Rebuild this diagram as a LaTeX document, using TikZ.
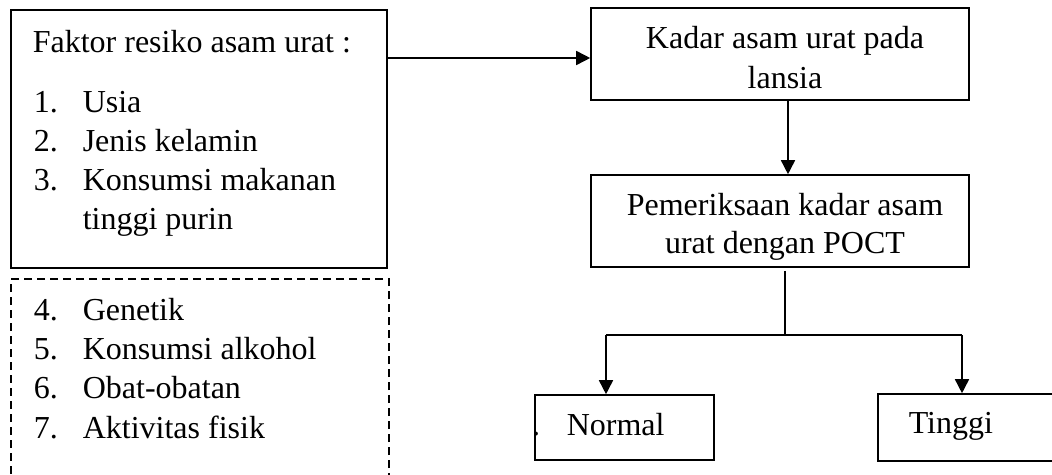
\documentclass[tikz,border=0pt]{standalone}
\usepackage{fontspec}
\setmainfont{Liberation Serif}
\usepackage{tikz}
\usetikzlibrary{arrows.meta}

\begin{document}
\begin{tikzpicture}[x=1pt,y=-1pt,>={Triangle[length=14pt,width=14pt]},line width=1.6pt,
  every node/.style={font=\fontsize{32}{39}\selectfont,inner sep=0pt},
  kotak/.style={draw,rectangle,line width=1.6pt}]
\useasboundingbox (0,0) rectangle (1052,474);
% boxes
\node[kotak,minimum width=376pt,minimum height=258pt] (faktor) at (199,139) {};
\node[kotak,dash pattern=on 8pt off 5pt,minimum width=378pt,minimum height=240pt] (lain) at (200,399) {};
\node[kotak,minimum width=378pt,minimum height=92pt] (kadar) at (780,54) {};
\node[kotak,minimum width=378pt,minimum height=92pt] (periksa) at (780,221) {};
\node[kotak,minimum width=179pt,minimum height=65pt] (normal) at (624.5,427.5) {};
\node[kotak,minimum width=192pt,minimum height=67pt] (tinggi) at (974,427.5) {};
% texts
\node[anchor=base west] (judul) at (32,52) {Faktor resiko asam urat :};
\node[anchor=base west] (no1) at (33,112) {1.};
\node[anchor=base west] (f1) at (82,112) {Usia};
\node[anchor=base west] (no2) at (33,151) {2.};
\node[anchor=base west] (f2) at (82,151) {Jenis kelamin};
\node[anchor=base west] (no3) at (33,190) {3.};
\node[anchor=base west] (f3) at (82,190) {Konsumsi makanan};
\node[anchor=base west] (f3b) at (82,229) {tinggi purin};
\node[anchor=base west] (no4) at (33,320) {4.};
\node[anchor=base west] (f4) at (82,320) {Genetik};
\node[anchor=base west] (no5) at (33,359) {5.};
\node[anchor=base west] (f5) at (82,359) {Konsumsi alkohol};
\node[anchor=base west] (no6) at (33,398) {6.};
\node[anchor=base west] (f6) at (82,398) {Obat-obatan};
\node[anchor=base west] (no7) at (33,438) {7.};
\node[anchor=base west] (f7) at (82,438) {Aktivitas fisik};
\node[anchor=base] (kadar1) at (785,48) {Kadar asam urat pada};
\node[anchor=base] (kadar2) at (785,88) {lansia};
\node[anchor=base] (periksa1) at (785,215) {Pemeriksaan kadar asam};
\node[anchor=base] (periksa2) at (785,253) {urat dengan POCT};
\node[anchor=base west] (tnormal) at (566,435) {Normal};
\node[anchor=base] (titik) at (536,435) {.};
\node[anchor=base west] (ttinggi) at (908,433) {Tinggi};
% connectors
\coordinate (k1) at ([yshift=-4pt]kadar.west);
\draw[->] (faktor.east |- k1) -- (k1);
\draw[->] ([xshift=8pt]kadar.south) -- ([xshift=8pt]periksa.north);
\coordinate (cabang) at (785,335);
\coordinate (kiri) at (606,335);
\coordinate (kanan) at (962,335);
\draw ([xshift=5pt,yshift=-3pt]periksa.south) -- (cabang);
\draw (kiri) -- (kanan);
\draw[->] (kiri) -- (kiri |- normal.north);
\draw[->] (kanan) -- (kanan |- tinggi.north);
\end{tikzpicture}
\end{document}
